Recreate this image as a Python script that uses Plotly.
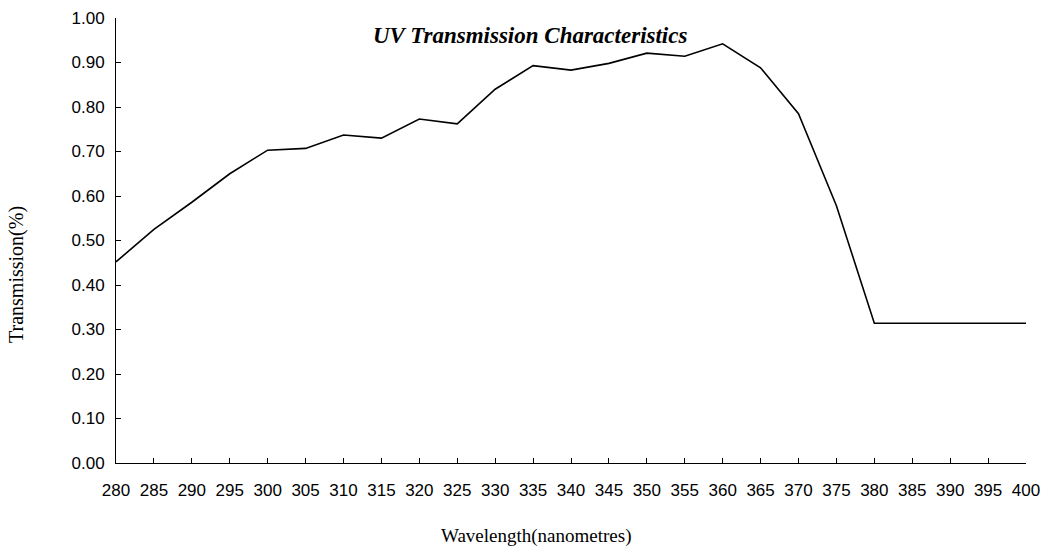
import plotly.graph_objects as go

wavelength = list(range(280, 405, 5))
transmission = [0.452, 0.525, 0.586, 0.650, 0.703, 0.707, 0.737, 0.730, 0.773, 0.762,
                0.840, 0.893, 0.883, 0.898, 0.921, 0.914, 0.942, 0.888, 0.785, 0.578,
                0.314, 0.314, 0.314, 0.314, 0.314]
y_ticks = [round(i * 0.1, 2) for i in range(11)]

serif = "Liberation Serif, Times New Roman, serif"

fig = go.Figure()
fig.add_trace(go.Scatter(x=wavelength, y=transmission, mode="lines",
                         line=dict(color="black", width=1.6), showlegend=False))

fig.update_layout(
    width=1046, height=546,
    margin=dict(l=116, r=20, t=18, b=83, autoexpand=False),
    paper_bgcolor="white", plot_bgcolor="white",
    font=dict(family="Liberation Sans, Arial, sans-serif", size=17, color="black"),
    annotations=[
        dict(text="<b><i>UV Transmission Characteristics</i></b>", x=(530 - 116) / 910,
             y=(463 - 35) / 445, xref="paper", yref="paper", xanchor="center", yanchor="middle",
             showarrow=False, font=dict(family=serif, size=23, color="black")),
        dict(text="Wavelength(nanometres)", x=(536 - 116) / 910, y=-(536 - 463) / 445,
             xref="paper", yref="paper", xanchor="center", yanchor="middle",
             showarrow=False, font=dict(family=serif, size=19)),
        dict(text="Transmission(%)", textangle=-90, x=(16 - 116) / 910, y=(463 - 275) / 445,
             xref="paper", yref="paper", xanchor="center", yanchor="middle", showarrow=False,
             font=dict(family=serif, size=20)),
    ],
)

fig.update_xaxes(range=[280, 400], tickmode="array", tickvals=wavelength,
                 ticktext=[str(w) for w in wavelength], automargin=False,
                 showline=True, linecolor="black", linewidth=1, showgrid=False, zeroline=False,
                 ticks="inside", ticklen=5, tickcolor="black", ticklabelstandoff=12)
fig.update_yaxes(range=[0, 1], tickmode="array", tickvals=y_ticks,
                 ticktext=[f"{v:.2f}" for v in y_ticks], automargin=False,
                 showline=True, linecolor="black", linewidth=1, showgrid=False, zeroline=False,
                 ticks="inside", ticklen=5, tickcolor="black", ticklabelstandoff=7)

fig.write_html("out.html", config={"displayModeBar": False},
               post_script="document.body.style.margin='0';document.body.style.padding='0';"
                           "document.body.style.overflow='hidden';"
                           "document.documentElement.style.overflow='hidden';")
